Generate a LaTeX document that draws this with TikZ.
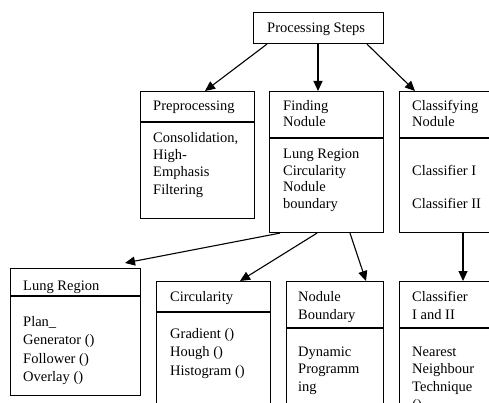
\documentclass[tikz,border=0pt]{standalone}
\usepackage{fontspec}
\setmainfont{Liberation Serif}
\usetikzlibrary{arrows.meta}
\begin{document}
\begin{tikzpicture}[x=1pt,y=-1pt,
  box/.style={draw, line width=1.1pt, anchor=north west, inner sep=0pt},
  txt/.style={anchor=base west, inner sep=0pt, font=\fontsize{14.5pt}{17pt}\selectfont},
  arr/.style={line width=1.1pt, -{Triangle[length=10pt,width=9pt]}},
  div/.style={line width=1.1pt}]
\useasboundingbox (0,0) rectangle (489,403);
\clip (0,0) rectangle (489,403);
\fill[white] (0,0) rectangle (489,403);
% boxes
\node[box, minimum width=130pt, minimum height=31pt] (ps) at (253,12) {};
\node[box, minimum width=114pt, minimum height=127pt] (pre) at (140,91) {};
\node[box, minimum width=114pt, minimum height=141pt] (find) at (269,91) {};
\node[box, minimum width=114pt, minimum height=141pt] (cls) at (399,91) {};
\node[box, minimum width=130pt, minimum height=127pt] (lung) at (10,268) {};
\node[box, minimum width=114pt, minimum height=140pt] (circ) at (156,281) {};
\node[box, minimum width=97pt, minimum height=140pt] (nb) at (286,281) {};
\node[box, minimum width=114pt, minimum height=140pt] (c12) at (399,281) {};
% dividers
\draw[div] (pre.west |- 0,122) -- (pre.east |- 0,122);
\draw[div] (find.west |- 0,138) -- (find.east |- 0,138);
\draw[div] (cls.west |- 0,138) -- (cls.east |- 0,138);
\draw[div] (lung.west |- 0,296) -- (lung.east |- 0,296);
\draw[div] (circ.west |- 0,312) -- (circ.east |- 0,312);
\draw[div] (nb.west |- 0,328) -- (nb.east |- 0,328);
\draw[div] (c12.west |- 0,328) -- (c12.east |- 0,328);
% texts
\node[txt] (tps) at (267,33) {Processing Steps};
\node[txt] (tpre) at (153,111) {Preprocessing};
\node[txt] (bpre1) at (153,143) {Consolidation,};
\node[txt] (bpre2) at (153,160) {High-};
\node[txt] (bpre3) at (153,177) {Emphasis};
\node[txt] (bpre4) at (153,194) {Filtering};
\node[txt] (tfind1) at (283,111) {Finding};
\node[txt] (tfind2) at (283,127) {Nodule};
\node[txt] (bfind1) at (283,159) {Lung Region};
\node[txt] (bfind2) at (283,176) {Circularity};
\node[txt] (bfind3) at (283,192) {Nodule};
\node[txt] (bfind4) at (283,208) {boundary};
\node[txt] (tcls1) at (412,111) {Classifying};
\node[txt] (tcls2) at (412,127) {Nodule};
\node[txt] (bcls1) at (412,176) {Classifier I};
\node[txt] (bcls2) at (412,208) {Classifier II};
\node[txt] (tlung) at (23,290) {Lung Region};
\node[txt] (blung1) at (23,326) {Plan\_};
\node[txt] (blung2) at (23,344) {Generator ()};
\node[txt] (blung3) at (23,363) {Follower ()};
\node[txt] (blung4) at (23,381) {Overlay ()};
\node[txt] (tcirc) at (170,301) {Circularity};
\node[txt] (bcirc1) at (170,338) {Gradient ()};
\node[txt] (bcirc2) at (170,356) {Hough ()};
\node[txt] (bcirc3) at (170,375) {Histogram ()};
\node[txt] (tnb1) at (298,301) {Nodule};
\node[txt] (tnb2) at (298,319) {Boundary};
\node[txt] (bnb1) at (298,356) {Dynamic};
\node[txt] (bnb2) at (298,373) {Programm};
\node[txt] (bnb3) at (298,391) {ing};
\node[txt] (tc121) at (412,301) {Classifier};
\node[txt] (tc122) at (412,319) {I and II};
\node[txt] (bc121) at (412,356) {Nearest};
\node[txt] (bc122) at (412,373) {Neighbour};
\node[txt] (bc123) at (412,391) {Technique};
\node[txt] (bc124) at (412,409) {()};
% arrows
\draw[arr] ([xshift=14pt]ps.south west) -- ([xshift=65pt]pre.north west);
\draw[arr] ([xshift=65pt]ps.south west) -- ([xshift=49pt]find.north west);
\draw[arr] ([xshift=114pt]ps.south west) -- ([xshift=16pt]cls.north west);
\draw[arr] ([xshift=11pt]find.south west) -- ([xshift=115pt,yshift=5pt]lung.north west);
\draw[arr] ([xshift=48pt]find.south west) -- ([xshift=84pt]circ.north west);
\draw[arr] ([xshift=81pt]find.south west) -- ([xshift=80pt]nb.north west);
\draw[arr] ([xshift=64pt]cls.south west) -- ([xshift=64pt]c12.north west);
\end{tikzpicture}
\end{document}
